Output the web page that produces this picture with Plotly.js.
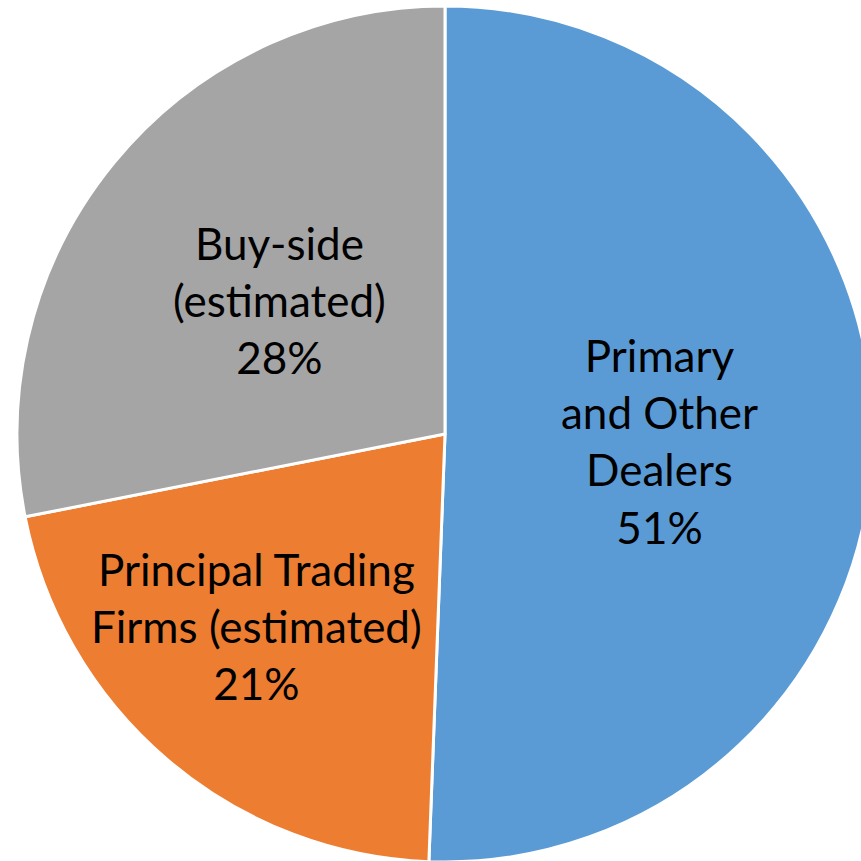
<!DOCTYPE html>
<html>
<head>
<meta charset="utf-8">
<script src="https://cdn.plot.ly/plotly-3.0.1.min.js"></script>
<style>
html,body{margin:0;padding:0;overflow:hidden;background:#fff;width:861px;height:861px;}
#chart{width:873px;height:862px;}
</style>
</head>
<body>
<div id="chart"></div>
<script>
const categories = ["Primary<br>and Other<br>Dealers", "Principal Trading<br>Firms (estimated)", "Buy-side<br>(estimated)"];
const values = [50.6, 21.3, 28.1];
const colors = ["#5B9BD5", "#ED7D31", "#A5A5A5"];

const total = values.reduce((a, b) => a + b, 0);
const labelPos = [[0.751, 0.492], [0.280, 0.276], [0.307, 0.657]];

const trace = {
  type: "pie",
  labels: categories,
  values: values,
  sort: false,
  direction: "clockwise",
  rotation: 0,
  textinfo: "none",
  marker: {colors: colors, line: {color: "#ffffff", width: 3}},
  hoverinfo: "none",
  showlegend: false
};

const annotations = categories.map((c, i) => ({
  xref: "paper", yref: "paper",
  x: labelPos[i][0], y: labelPos[i][1],
  xanchor: "center", yanchor: "middle",
  showarrow: false,
  align: "center",
  text: c + "<br>" + Math.round(values[i] / total * 100) + "%",
  font: {family: "Lato, 'Open Sans', sans-serif", size: 44, color: "#000"}
}));

Plotly.newPlot("chart", [trace], {
  width: 873, height: 862,
  margin: {l: 17, r: 0, t: 6, b: 0},
  paper_bgcolor: "#fff",
  showlegend: false,
  annotations: annotations
}, {staticPlot: true, displayModeBar: false});
</script>
</body>
</html>
